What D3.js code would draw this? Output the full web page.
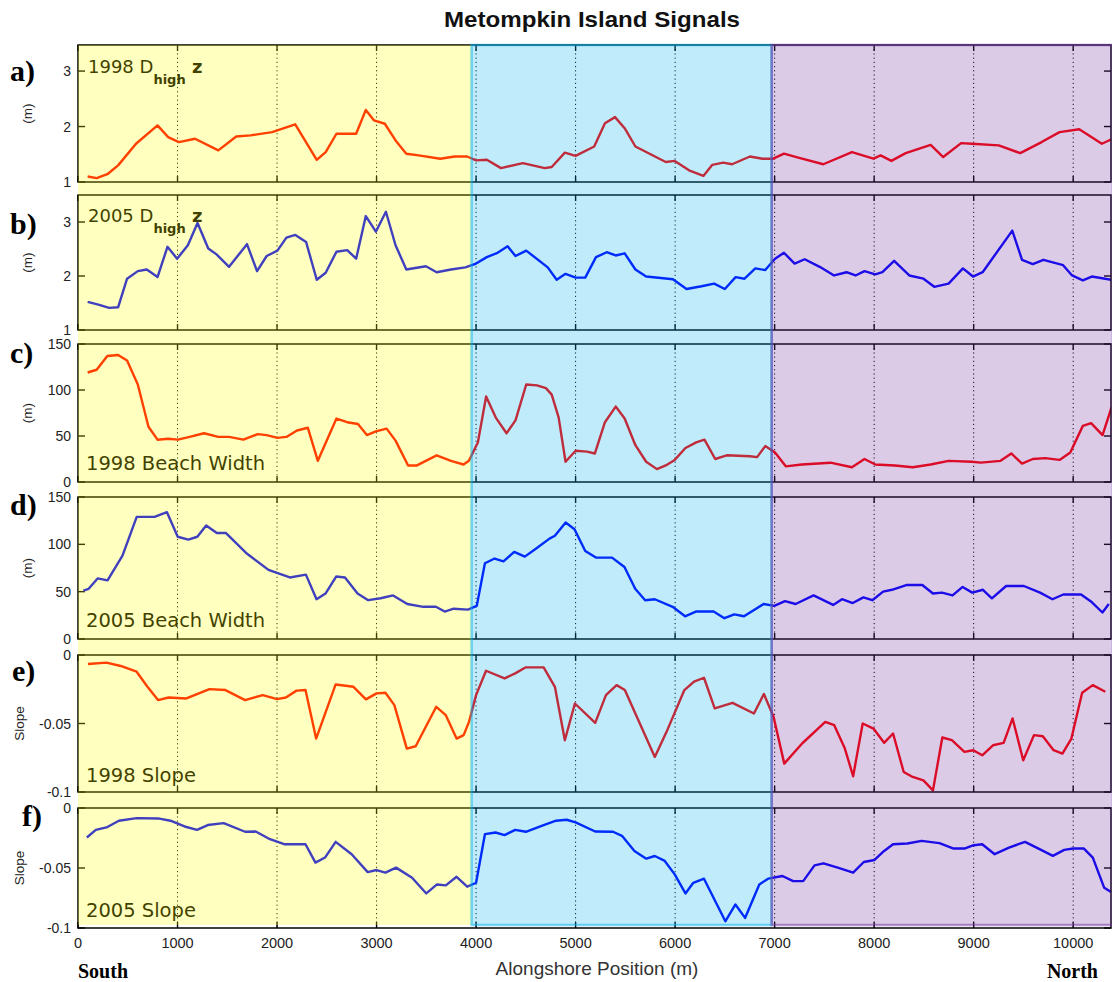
<!DOCTYPE html>
<html><head><meta charset="utf-8">
<script src="https://cdn.jsdelivr.net/npm/d3@7"></script>
<style>body{margin:0;background:#fff}svg{display:block}</style>
</head><body>
<svg id="chart" width="1112" height="982"></svg>
<script>
// ---------- data ----------
const xTicks = [0,1000,2000,3000,4000,5000,6000,7000,8000,9000,10000];
const regionBreaks = [0, 3955, 6970, 10400];
const regionColors = ["#FFFF00", "#00B0F0", "#7030A0"];

const dz98Pos = [97,187,295,403,583,799,906,1014,1176,1410,1590,1734,1950,2183,2399,2489,2597,2795,2892,2975,3083,3191,3299,3424,3640,3784,3910,4000,4108,4250,4470,4690,4760,4892,5000,5187,5295,5396,5493,5601,5709,5906,5996,6140,6284,6374,6482,6572,6752,6878,6986,7094,7237,7489,7777,7993,8065,8173,8317,8568,8694,8874,8982,9252,9468,9683,9863,10061,10288,10385];
const dz98Val = [1.10,1.07,1.14,1.30,1.69,2.02,1.81,1.72,1.78,1.57,1.82,1.84,1.90,2.04,1.40,1.54,1.87,1.87,2.30,2.11,2.05,1.75,1.51,1.48,1.42,1.46,1.46,1.39,1.40,1.25,1.34,1.25,1.27,1.53,1.47,1.64,2.06,2.17,1.97,1.64,1.54,1.36,1.38,1.21,1.11,1.31,1.35,1.32,1.46,1.42,1.42,1.51,1.44,1.32,1.54,1.42,1.48,1.38,1.52,1.67,1.45,1.70,1.69,1.66,1.52,1.72,1.90,1.95,1.69,1.77];

const dz05Pos = [97,205,313,403,493,601,691,799,899,996,1104,1201,1309,1392,1518,1698,1799,1896,2004,2094,2184,2292,2399,2489,2597,2705,2795,2892,2993,3094,3191,3299,3496,3604,3748,3892,4000,4108,4216,4317,4396,4504,4720,4810,4899,5000,5097,5205,5313,5403,5493,5601,5709,5978,6115,6266,6392,6500,6608,6698,6806,6906,7004,7094,7201,7302,7453,7597,7723,7813,7903,8011,8083,8201,8353,8496,8604,8748,8892,8993,9090,9388,9486,9594,9701,9899,9989,10097,10187,10385];
const dz05Val = [1.52,1.47,1.41,1.42,1.95,2.09,2.12,1.98,2.54,2.32,2.57,2.98,2.51,2.40,2.17,2.59,2.09,2.37,2.47,2.71,2.76,2.63,1.93,2.06,2.45,2.48,2.32,3.11,2.82,3.19,2.57,2.12,2.18,2.07,2.12,2.16,2.23,2.35,2.43,2.55,2.37,2.47,2.16,1.93,2.04,1.97,1.97,2.35,2.44,2.38,2.42,2.12,1.99,1.94,1.76,1.81,1.86,1.76,1.98,1.95,2.14,2.11,2.32,2.43,2.23,2.31,2.17,2.01,2.07,2.01,2.09,2.03,2.07,2.28,2.01,1.95,1.80,1.86,2.14,1.99,2.07,2.84,2.30,2.22,2.30,2.20,2.01,1.92,1.99,1.93];

const bw98Pos = [97,187,295,403,493,601,708,799,906,1004,1122,1266,1410,1518,1662,1806,1896,2004,2094,2201,2309,2410,2597,2705,2813,2903,2993,3101,3191,3317,3406,3604,3748,3874,3928,4018,4101,4198,4306,4396,4504,4612,4702,4760,4830,4899,5000,5115,5194,5295,5403,5493,5601,5709,5817,5906,5996,6104,6212,6295,6403,6518,6752,6824,6906,7004,7112,7273,7561,7777,7903,8011,8209,8388,8568,8748,8982,9072,9270,9378,9486,9594,9719,9863,9971,10097,10180,10295,10385];
const bw98Val = [119,122,137,138,132,106,60,46,47,46,49,53,49,49,46,52,51,48,49,56,59,23,69,65,63,51,55,58,45,18,18,29,23,19,23,43,93,70,53,67,106,105,102,95,70,22,34,33,31,65,82,69,40,22,14,18,24,37,43,46,25,29,28,27,39,32,17,19,21,16,25,19,18,16,19,23,22,21,23,31,20,25,26,24,32,61,64,51,81];

const bw05Pos = [54,107,197,297,447,590,769,894,1002,1109,1199,1288,1395,1485,1699,1914,2021,2129,2290,2397,2487,2594,2683,2809,2916,3041,3166,3309,3470,3596,3685,3775,3918,4007,4089,4186,4275,4383,4490,4597,4738,4792,4900,4989,5097,5204,5366,5491,5599,5699,5796,5975,6100,6208,6387,6495,6595,6692,6889,6996,7104,7211,7391,7588,7677,7785,7892,7982,8090,8179,8323,8484,8591,8681,8788,8889,8986,9093,9183,9326,9505,9667,9792,9900,10079,10186,10294,10358];
const bw05Val = [51,53,64,62,88,129,129,134,108,105,108,120,112,112,90,73,69,65,68,42,48,66,65,48,41,43,46,37,34,34,29,32,31,35,80,85,82,92,87,95,106,109,123,116,93,86,86,76,53,41,42,34,24,29,29,22,26,24,37,35,40,37,46,36,42,38,44,41,50,52,57,57,48,49,46,55,49,52,43,56,56,49,42,47,47,39,28,37];

const sl98Pos = [100,286,429,589,696,804,911,1089,1321,1482,1679,1857,2000,2089,2196,2286,2393,2589,2768,2893,3000,3089,3179,3304,3393,3600,3696,3804,3875,3929,4000,4100,4286,4393,4500,4679,4792,4892,4993,5197,5305,5412,5495,5796,5914,6093,6190,6290,6398,6577,6792,6892,6989,7097,7276,7509,7599,7706,7789,7885,7993,8100,8190,8297,8387,8495,8591,8685,8781,8907,8996,9086,9194,9301,9391,9498,9606,9695,9803,9892,9982,10090,10197,10323];
const sl98Val = [-0.0066,-0.0056,-0.008,-0.0122,-0.023,-0.0329,-0.031,-0.0317,-0.0249,-0.0256,-0.0329,-0.0293,-0.0322,-0.031,-0.026,-0.0256,-0.061,-0.0215,-0.0232,-0.0324,-0.028,-0.0276,-0.0366,-0.0683,-0.0666,-0.0378,-0.0439,-0.061,-0.0585,-0.0488,-0.0293,-0.0115,-0.0171,-0.0134,-0.009,-0.009,-0.0232,-0.0622,-0.0354,-0.0495,-0.0293,-0.022,-0.0256,-0.0744,-0.0561,-0.0256,-0.0195,-0.0166,-0.039,-0.0349,-0.0427,-0.0285,-0.0451,-0.0793,-0.0646,-0.0488,-0.0512,-0.0683,-0.0885,-0.05,-0.0537,-0.0641,-0.0573,-0.0854,-0.089,-0.0915,-0.0988,-0.0602,-0.0622,-0.0707,-0.0695,-0.0732,-0.0659,-0.0641,-0.0463,-0.0768,-0.0585,-0.0593,-0.0695,-0.072,-0.061,-0.0276,-0.022,-0.0268];

const sl05Pos = [89,179,286,411,589,804,929,1071,1196,1304,1464,1679,1786,1929,2071,2286,2386,2482,2589,2750,2911,3000,3089,3196,3357,3500,3607,3696,3804,3911,4000,4089,4196,4286,4393,4500,4679,4804,4910,5000,5197,5376,5466,5591,5710,5796,5896,5996,6104,6183,6290,6505,6606,6703,6846,6935,7079,7186,7287,7401,7491,7634,7789,7896,8004,8100,8190,8333,8477,8656,8799,8907,9000,9086,9211,9355,9516,9677,9796,9910,10000,10108,10197,10312,10380];
const sl05Val = [-0.0246,-0.0182,-0.0162,-0.0106,-0.0084,-0.0087,-0.0106,-0.0154,-0.0182,-0.0142,-0.0126,-0.0198,-0.0196,-0.026,-0.0302,-0.0302,-0.0455,-0.0413,-0.0282,-0.0385,-0.0534,-0.0517,-0.0539,-0.0497,-0.0581,-0.0712,-0.0637,-0.0645,-0.0573,-0.0656,-0.0623,-0.0218,-0.0204,-0.0226,-0.0182,-0.0198,-0.0142,-0.0106,-0.0098,-0.012,-0.0196,-0.0198,-0.0232,-0.0358,-0.0422,-0.04,-0.0441,-0.0553,-0.0712,-0.0623,-0.0589,-0.0944,-0.0804,-0.0916,-0.0637,-0.0589,-0.0567,-0.0609,-0.0609,-0.0478,-0.0461,-0.0497,-0.0539,-0.045,-0.0433,-0.0358,-0.0302,-0.0296,-0.0274,-0.0293,-0.0338,-0.0338,-0.031,-0.0302,-0.0385,-0.033,-0.0282,-0.0349,-0.0399,-0.0349,-0.0338,-0.0338,-0.0413,-0.0665,-0.070];

const dzTicks = [1,2,3];
const bwTicks = [0,50,100,150];
const slTicks = [-0.1,-0.05,0];
const slTickLabels = ["-0.1","-0.05","0"];

// ---------- layout ----------
const svg = d3.select("#chart");
const x = d3.scaleLinear().domain([0, 10380]).range([78, 1111]);
const sans = "DejaVu Sans, sans-serif";
const arial = "Liberation Sans, Arial, sans-serif";
const serif = "Liberation Serif, Times New Roman, serif";

const panels = [
  {pos:dz98Pos, val:dz98Val, color:"#ff0000", top:45,  bottom:182, domain:[1,3.47], ticks:dzTicks, tl:dzTicks.map(String), ylab:"(m)",  letter:"a)", lx:10, ly:81,  label:{year:"1998", type:"dz", y:73}},
  {pos:dz05Pos, val:dz05Val, color:"#0000ff", top:195, bottom:330, domain:[1,3.5],  ticks:dzTicks, tl:dzTicks.map(String), ylab:"(m)",  letter:"b)", lx:10, ly:234, label:{year:"2005", type:"dz", y:222}},
  {pos:bw98Pos, val:bw98Val, color:"#ff0000", top:344, bottom:482, domain:[0,150],  ticks:bwTicks, tl:bwTicks.map(String), ylab:"(m)",  letter:"c)", lx:10, ly:363, label:{text:"1998 Beach Width", y:470}},
  {pos:bw05Pos, val:bw05Val, color:"#0000ff", top:497, bottom:639, domain:[0,150],  ticks:bwTicks, tl:bwTicks.map(String), ylab:"(m)",  letter:"d)", lx:10, ly:515, label:{text:"2005 Beach Width", y:627}},
  {pos:sl98Pos, val:sl98Val, color:"#ff0000", top:655, bottom:792, domain:[-0.1,0], ticks:slTicks, tl:slTickLabels,        ylab:"Slope",letter:"e)", lx:12, ly:681, label:{text:"1998 Slope", y:782}},
  {pos:sl05Pos, val:sl05Val, color:"#0000ff", top:808, bottom:928, domain:[-0.1,0], ticks:slTicks, tl:slTickLabels,        ylab:"Slope",letter:"f)", lx:22, ly:826, label:{text:"2005 Slope", y:917}}
];

const defs = svg.append("defs");
const x0 = x.range()[0], x1 = x.range()[1];

// title
svg.append("text").attr("x", 592).attr("y", 27).attr("text-anchor","middle")
  .attr("font-family", arial).attr("font-weight","bold").attr("font-size", 22).attr("fill","#111")
  .attr("textLength", 296).attr("lengthAdjust","spacingAndGlyphs")
  .text("Metompkin Island Signals");

panels.forEach((p, i) => {
  const y = d3.scaleLinear().domain(p.domain).range([p.bottom, p.top]);
  const g = svg.append("g");
  defs.append("clipPath").attr("id","clip"+i).append("rect")
    .attr("x", x0).attr("y", p.top).attr("width", x1 - x0).attr("height", p.bottom - p.top);

  // dotted vertical grid
  g.selectAll(".grid").data(xTicks.filter(d => d > 0)).join("line")
    .attr("x1", d => x(d)).attr("x2", d => x(d)).attr("y1", p.top).attr("y2", p.bottom)
    .attr("stroke","#000").attr("stroke-width",1).attr("stroke-dasharray","1.2,3");

  // x ticks top & bottom (inward)
  g.selectAll(".xtb").data(xTicks).join("line")
    .attr("x1", d => x(d)).attr("x2", d => x(d)).attr("y1", p.bottom).attr("y2", p.bottom - 6)
    .attr("stroke","#000").attr("stroke-width",1.4);
  g.selectAll(".xtt").data(xTicks).join("line")
    .attr("x1", d => x(d)).attr("x2", d => x(d)).attr("y1", p.top).attr("y2", p.top + 6)
    .attr("stroke","#000").attr("stroke-width",1.4);

  // y ticks left & right (inward)
  g.selectAll(".ytl").data(p.ticks).join("line")
    .attr("x1", x0).attr("x2", x0 + 7).attr("y1", d => y(d)).attr("y2", d => y(d))
    .attr("stroke","#000").attr("stroke-width",1.4);
  g.selectAll(".ytr").data(p.ticks).join("line")
    .attr("x1", x1 - 7).attr("x2", x1).attr("y1", d => y(d)).attr("y2", d => y(d))
    .attr("stroke","#000").attr("stroke-width",1.4);

  // y tick labels
  g.selectAll(".ytlab").data(p.ticks).join("text")
    .attr("x", 71).attr("y", d => y(d)).attr("dy","0.36em").attr("text-anchor","end")
    .attr("font-family", arial).attr("font-size", 14).attr("fill","#222")
    .text((d, k) => p.tl[k]);

  // y axis label
  const ym = (p.top + p.bottom) / 2;
  g.append("text").attr("transform", `translate(${p.ylab === "Slope" ? 24 : 32},${ym}) rotate(-90)`)
    .attr("text-anchor","middle").attr("font-family", arial).attr("font-size", 13.5).attr("fill","#222")
    .text(p.ylab);

  // data line
  const pts = p.pos.map((d, k) => [d, p.val[k]]);
  g.append("path").datum(pts).attr("clip-path", `url(#clip${i})`)
    .attr("d", d3.line().x(d => x(d[0])).y(d => y(d[1])))
    .attr("fill","none").attr("stroke", p.color).attr("stroke-width", 2.4).attr("stroke-linejoin","round");

  // box
  g.append("rect").attr("x", x0).attr("y", p.top).attr("width", x1 - x0).attr("height", p.bottom - p.top)
    .attr("fill","none").attr("stroke","#000").attr("stroke-width",1.5);

  // in-panel label
  if (p.label.type === "dz") {
    const t = g.append("text").attr("x", 88).attr("y", p.label.y)
      .attr("font-family", sans).attr("font-size", 18).attr("fill","#000");
    t.append("tspan").text(p.label.year + " D");
    t.append("tspan").attr("font-weight","bold").attr("font-size", 13).attr("dy", 11).text("high");
    t.append("tspan").attr("font-weight","bold").attr("dy", -11).text(" z");
  } else {
    g.append("text").attr("x", 86).attr("y", p.label.y)
      .attr("font-family", sans).attr("font-size", 19.5).attr("fill","#000").text(p.label.text);
  }

  // panel letter
  svg.append("text").attr("x", p.lx).attr("y", p.ly).attr("font-family", serif)
    .attr("font-weight","bold").attr("font-size", 30).attr("fill","#000").text(p.letter);
});

// x tick labels on the bottom panel
const last = panels[panels.length - 1];
svg.selectAll(".xlab").data(xTicks).join("text")
  .attr("x", d => x(d)).attr("y", last.bottom + 20).attr("text-anchor","middle")
  .attr("font-family", arial).attr("font-size", 14.5).attr("fill","#222").text(d => d);

svg.append("text").attr("x", 597).attr("y", 975).attr("text-anchor","middle")
  .attr("font-family", arial).attr("font-size", 19).attr("fill","#333").text("Alongshore Position (m)");
svg.append("text").attr("x", 78).attr("y", 978).attr("font-family", serif).attr("font-weight","bold")
  .attr("font-size", 20).attr("fill","#000").text("South");
svg.append("text").attr("x", 1098).attr("y", 978).attr("text-anchor","end").attr("font-family", serif).attr("font-weight","bold")
  .attr("font-size", 20).attr("fill","#000").text("North");

// translucent region overlays
const overlayTop = 45, overlayBottom = 925;
svg.append("g").selectAll("rect").data(regionColors).join("rect")
  .attr("x", (d, k) => x(regionBreaks[k]))
  .attr("width", (d, k) => Math.min(x(regionBreaks[k + 1]), 1114) - x(regionBreaks[k]))
  .attr("y", overlayTop).attr("height", overlayBottom - overlayTop)
  .attr("fill", d => d).attr("fill-opacity", 0.25)
  .attr("stroke", (d, k) => k === 0 ? "none" : d).attr("stroke-opacity", 0.5).attr("stroke-width", 2.5);
</script>
</body></html>
